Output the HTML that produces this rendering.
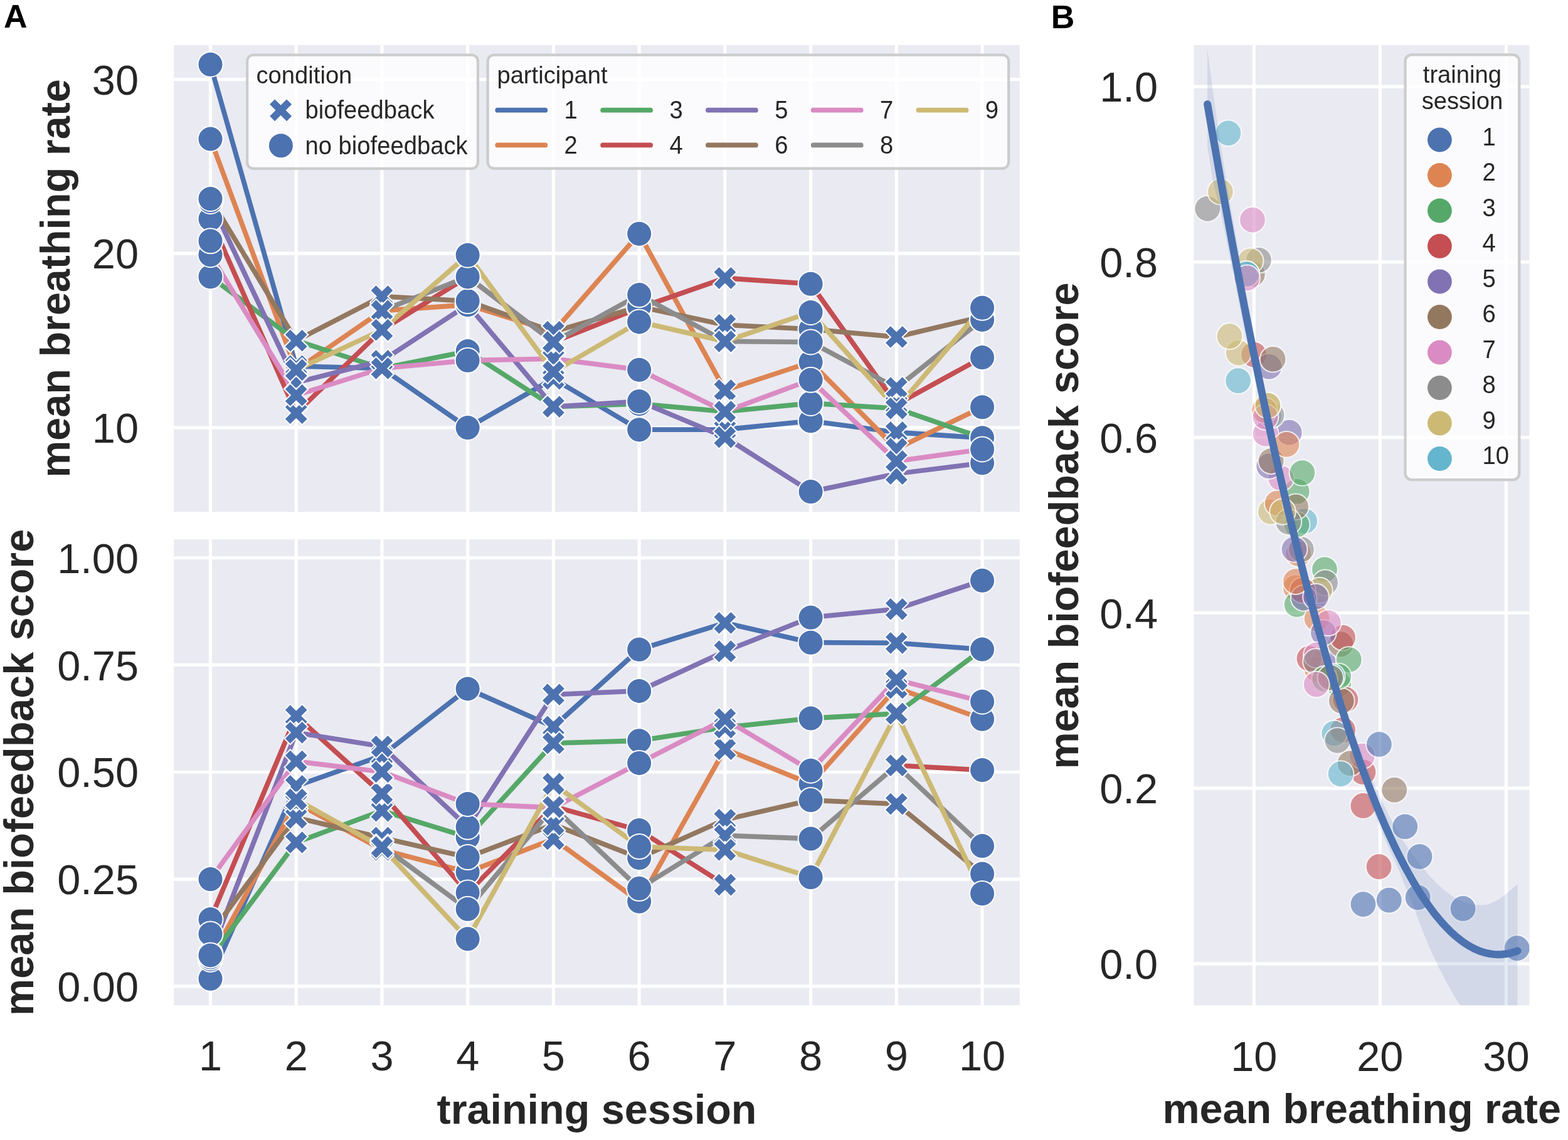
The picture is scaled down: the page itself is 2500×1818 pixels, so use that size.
<!DOCTYPE html>
<html><head><meta charset="utf-8"><title>Breathing biofeedback figure</title>
<style>html,body{margin:0;padding:0;background:#fff;overflow:hidden;}svg{display:block;}</style></head><body>
<svg width="2500" height="1818" viewBox="0 0 2500 1818" font-family="'Liberation Sans', Arial, Helvetica, sans-serif" fill="#262626">
<rect width="2500" height="1818" fill="#fff"/>
<defs>
<clipPath id="cT"><rect x="277.2" y="71.8" width="1348.6" height="744.6"/></clipPath>
<clipPath id="cB"><rect x="277.2" y="860.3" width="1348.6" height="742.9"/></clipPath>
<clipPath id="cR"><rect x="1903.5" y="71.8" width="534.9" height="1531.4"/></clipPath>
</defs>
<rect x="277.2" y="71.8" width="1348.6" height="744.6" fill="#EAEAF2"/>
<line x1="335.5" y1="71.8" x2="335.5" y2="816.4" stroke="#fff" stroke-width="5.2"/>
<line x1="472.23" y1="71.8" x2="472.23" y2="816.4" stroke="#fff" stroke-width="5.2"/>
<line x1="608.96" y1="71.8" x2="608.96" y2="816.4" stroke="#fff" stroke-width="5.2"/>
<line x1="745.69" y1="71.8" x2="745.69" y2="816.4" stroke="#fff" stroke-width="5.2"/>
<line x1="882.42" y1="71.8" x2="882.42" y2="816.4" stroke="#fff" stroke-width="5.2"/>
<line x1="1019.15" y1="71.8" x2="1019.15" y2="816.4" stroke="#fff" stroke-width="5.2"/>
<line x1="1155.88" y1="71.8" x2="1155.88" y2="816.4" stroke="#fff" stroke-width="5.2"/>
<line x1="1292.61" y1="71.8" x2="1292.61" y2="816.4" stroke="#fff" stroke-width="5.2"/>
<line x1="1429.34" y1="71.8" x2="1429.34" y2="816.4" stroke="#fff" stroke-width="5.2"/>
<line x1="1566.07" y1="71.8" x2="1566.07" y2="816.4" stroke="#fff" stroke-width="5.2"/>
<line x1="277.2" y1="681.8" x2="1625.8" y2="681.8" stroke="#fff" stroke-width="5.2"/>
<line x1="277.2" y1="404.2" x2="1625.8" y2="404.2" stroke="#fff" stroke-width="5.2"/>
<line x1="277.2" y1="126.6" x2="1625.8" y2="126.6" stroke="#fff" stroke-width="5.2"/>
<rect x="277.2" y="860.3" width="1348.6" height="742.9" fill="#EAEAF2"/>
<line x1="335.5" y1="860.3" x2="335.5" y2="1603.2" stroke="#fff" stroke-width="5.2"/>
<line x1="472.23" y1="860.3" x2="472.23" y2="1603.2" stroke="#fff" stroke-width="5.2"/>
<line x1="608.96" y1="860.3" x2="608.96" y2="1603.2" stroke="#fff" stroke-width="5.2"/>
<line x1="745.69" y1="860.3" x2="745.69" y2="1603.2" stroke="#fff" stroke-width="5.2"/>
<line x1="882.42" y1="860.3" x2="882.42" y2="1603.2" stroke="#fff" stroke-width="5.2"/>
<line x1="1019.15" y1="860.3" x2="1019.15" y2="1603.2" stroke="#fff" stroke-width="5.2"/>
<line x1="1155.88" y1="860.3" x2="1155.88" y2="1603.2" stroke="#fff" stroke-width="5.2"/>
<line x1="1292.61" y1="860.3" x2="1292.61" y2="1603.2" stroke="#fff" stroke-width="5.2"/>
<line x1="1429.34" y1="860.3" x2="1429.34" y2="1603.2" stroke="#fff" stroke-width="5.2"/>
<line x1="1566.07" y1="860.3" x2="1566.07" y2="1603.2" stroke="#fff" stroke-width="5.2"/>
<line x1="277.2" y1="1572.9" x2="1625.8" y2="1572.9" stroke="#fff" stroke-width="5.2"/>
<line x1="277.2" y1="1402.08" x2="1625.8" y2="1402.08" stroke="#fff" stroke-width="5.2"/>
<line x1="277.2" y1="1231.25" x2="1625.8" y2="1231.25" stroke="#fff" stroke-width="5.2"/>
<line x1="277.2" y1="1060.43" x2="1625.8" y2="1060.43" stroke="#fff" stroke-width="5.2"/>
<line x1="277.2" y1="889.6" x2="1625.8" y2="889.6" stroke="#fff" stroke-width="5.2"/>
<rect x="1903.5" y="71.8" width="534.9" height="1531.4" fill="#EAEAF2"/>
<line x1="1999.3" y1="71.8" x2="1999.3" y2="1603.2" stroke="#fff" stroke-width="5.2"/>
<line x1="2200.35" y1="71.8" x2="2200.35" y2="1603.2" stroke="#fff" stroke-width="5.2"/>
<line x1="2401.4" y1="71.8" x2="2401.4" y2="1603.2" stroke="#fff" stroke-width="5.2"/>
<line x1="1903.5" y1="1536.9" x2="2438.4" y2="1536.9" stroke="#fff" stroke-width="5.2"/>
<line x1="1903.5" y1="1257.16" x2="2438.4" y2="1257.16" stroke="#fff" stroke-width="5.2"/>
<line x1="1903.5" y1="977.42" x2="2438.4" y2="977.42" stroke="#fff" stroke-width="5.2"/>
<line x1="1903.5" y1="697.68" x2="2438.4" y2="697.68" stroke="#fff" stroke-width="5.2"/>
<line x1="1903.5" y1="417.94" x2="2438.4" y2="417.94" stroke="#fff" stroke-width="5.2"/>
<line x1="1903.5" y1="138.2" x2="2438.4" y2="138.2" stroke="#fff" stroke-width="5.2"/>
<g clip-path="url(#cT)" fill="none" stroke-width="7.8" stroke-linecap="round" stroke-linejoin="round">
<polyline points="335.5,102.7 472.23,584 608.96,587.4 745.69,682 882.42,604 1019.15,685.2 1155.88,685 1292.61,671.3 1429.34,689.5 1566.07,698.3" stroke="#4C72B0"/>
<polyline points="335.5,221.6 472.23,589.9 608.96,495.7 745.69,486 882.42,529.1 1019.15,372.7 1155.88,622.4 1292.61,577.5 1429.34,715.7 1566.07,649.2" stroke="#DD8452"/>
<polyline points="335.5,441.3 472.23,543.2 608.96,587.4 745.69,560.1 882.42,648.6 1019.15,644 1155.88,656.4 1292.61,643 1429.34,651.3 1566.07,698.3" stroke="#55A868"/>
<polyline points="335.5,349.1 472.23,658.7 608.96,526.2 745.69,441.4 882.42,545.5 1019.15,491 1155.88,443.5 1292.61,452.7 1429.34,645 1566.07,570.1" stroke="#C44E52"/>
<polyline points="335.5,321 472.23,610 608.96,575.4 745.69,486.1 882.42,648.6 1019.15,640 1155.88,697.1 1292.61,784.1 1429.34,755.5 1566.07,738.3" stroke="#8172B3"/>
<polyline points="335.5,317 472.23,543.2 608.96,472.7 745.69,480.1 882.42,529.1 1019.15,489 1155.88,518.2 1292.61,524.8 1429.34,537.4 1566.07,505" stroke="#937860"/>
<polyline points="335.5,406.2 472.23,630.2 608.96,587.4 745.69,574.8 882.42,572.2 1019.15,589.7 1155.88,656.4 1292.61,605.8 1429.34,735.4 1566.07,716.5" stroke="#DA8BC3"/>
<polyline points="608.96,495.7 745.69,441.4 882.42,545.5 1019.15,470.1 1155.88,544.4 1292.61,545.5 1429.34,618.6 1566.07,509.9" stroke="#8C8C8C"/>
<polyline points="472.23,589.9 608.96,526.2 745.69,406.7 882.42,593 1019.15,513.4 1155.88,544.4 1292.61,498 1429.34,651.3 1566.07,490.8" stroke="#CCB974"/>
</g>
<g clip-path="url(#cT)">
<circle cx="335.5" cy="102.7" r="20" fill="#4C72B0" stroke="#fff" stroke-width="2.0"/>
<path d="M481.66,565.14 L491.09,574.57 L481.66,584 L491.09,593.43 L481.66,602.86 L472.23,593.43 L462.8,602.86 L453.37,593.43 L462.8,584 L453.37,574.57 L462.8,565.14 L472.23,574.57 Z" fill="#4C72B0" stroke="#fff" stroke-width="2.0" stroke-linejoin="miter"/>
<path d="M618.39,568.54 L627.82,577.97 L618.39,587.4 L627.82,596.83 L618.39,606.26 L608.96,596.83 L599.53,606.26 L590.1,596.83 L599.53,587.4 L590.1,577.97 L599.53,568.54 L608.96,577.97 Z" fill="#4C72B0" stroke="#fff" stroke-width="2.0" stroke-linejoin="miter"/>
<circle cx="745.69" cy="682" r="20" fill="#4C72B0" stroke="#fff" stroke-width="2.0"/>
<path d="M891.85,585.14 L901.28,594.57 L891.85,604 L901.28,613.43 L891.85,622.86 L882.42,613.43 L872.99,622.86 L863.56,613.43 L872.99,604 L863.56,594.57 L872.99,585.14 L882.42,594.57 Z" fill="#4C72B0" stroke="#fff" stroke-width="2.0" stroke-linejoin="miter"/>
<circle cx="1019.15" cy="685.2" r="20" fill="#4C72B0" stroke="#fff" stroke-width="2.0"/>
<path d="M1165.31,666.14 L1174.74,675.57 L1165.31,685 L1174.74,694.43 L1165.31,703.86 L1155.88,694.43 L1146.45,703.86 L1137.02,694.43 L1146.45,685 L1137.02,675.57 L1146.45,666.14 L1155.88,675.57 Z" fill="#4C72B0" stroke="#fff" stroke-width="2.0" stroke-linejoin="miter"/>
<circle cx="1292.61" cy="671.3" r="20" fill="#4C72B0" stroke="#fff" stroke-width="2.0"/>
<path d="M1438.77,670.64 L1448.2,680.07 L1438.77,689.5 L1448.2,698.93 L1438.77,708.36 L1429.34,698.93 L1419.91,708.36 L1410.48,698.93 L1419.91,689.5 L1410.48,680.07 L1419.91,670.64 L1429.34,680.07 Z" fill="#4C72B0" stroke="#fff" stroke-width="2.0" stroke-linejoin="miter"/>
<circle cx="1566.07" cy="698.3" r="20" fill="#4C72B0" stroke="#fff" stroke-width="2.0"/>
<circle cx="335.5" cy="221.6" r="20" fill="#4C72B0" stroke="#fff" stroke-width="2.0"/>
<path d="M481.66,571.04 L491.09,580.47 L481.66,589.9 L491.09,599.33 L481.66,608.76 L472.23,599.33 L462.8,608.76 L453.37,599.33 L462.8,589.9 L453.37,580.47 L462.8,571.04 L472.23,580.47 Z" fill="#4C72B0" stroke="#fff" stroke-width="2.0" stroke-linejoin="miter"/>
<path d="M618.39,476.84 L627.82,486.27 L618.39,495.7 L627.82,505.13 L618.39,514.56 L608.96,505.13 L599.53,514.56 L590.1,505.13 L599.53,495.7 L590.1,486.27 L599.53,476.84 L608.96,486.27 Z" fill="#4C72B0" stroke="#fff" stroke-width="2.0" stroke-linejoin="miter"/>
<circle cx="745.69" cy="486" r="20" fill="#4C72B0" stroke="#fff" stroke-width="2.0"/>
<path d="M891.85,510.24 L901.28,519.67 L891.85,529.1 L901.28,538.53 L891.85,547.96 L882.42,538.53 L872.99,547.96 L863.56,538.53 L872.99,529.1 L863.56,519.67 L872.99,510.24 L882.42,519.67 Z" fill="#4C72B0" stroke="#fff" stroke-width="2.0" stroke-linejoin="miter"/>
<circle cx="1019.15" cy="372.7" r="20" fill="#4C72B0" stroke="#fff" stroke-width="2.0"/>
<path d="M1165.31,603.54 L1174.74,612.97 L1165.31,622.4 L1174.74,631.83 L1165.31,641.26 L1155.88,631.83 L1146.45,641.26 L1137.02,631.83 L1146.45,622.4 L1137.02,612.97 L1146.45,603.54 L1155.88,612.97 Z" fill="#4C72B0" stroke="#fff" stroke-width="2.0" stroke-linejoin="miter"/>
<circle cx="1292.61" cy="577.5" r="20" fill="#4C72B0" stroke="#fff" stroke-width="2.0"/>
<path d="M1438.77,696.84 L1448.2,706.27 L1438.77,715.7 L1448.2,725.13 L1438.77,734.56 L1429.34,725.13 L1419.91,734.56 L1410.48,725.13 L1419.91,715.7 L1410.48,706.27 L1419.91,696.84 L1429.34,706.27 Z" fill="#4C72B0" stroke="#fff" stroke-width="2.0" stroke-linejoin="miter"/>
<circle cx="1566.07" cy="649.2" r="20" fill="#4C72B0" stroke="#fff" stroke-width="2.0"/>
<circle cx="335.5" cy="441.3" r="20" fill="#4C72B0" stroke="#fff" stroke-width="2.0"/>
<path d="M481.66,524.34 L491.09,533.77 L481.66,543.2 L491.09,552.63 L481.66,562.06 L472.23,552.63 L462.8,562.06 L453.37,552.63 L462.8,543.2 L453.37,533.77 L462.8,524.34 L472.23,533.77 Z" fill="#4C72B0" stroke="#fff" stroke-width="2.0" stroke-linejoin="miter"/>
<path d="M618.39,568.54 L627.82,577.97 L618.39,587.4 L627.82,596.83 L618.39,606.26 L608.96,596.83 L599.53,606.26 L590.1,596.83 L599.53,587.4 L590.1,577.97 L599.53,568.54 L608.96,577.97 Z" fill="#4C72B0" stroke="#fff" stroke-width="2.0" stroke-linejoin="miter"/>
<circle cx="745.69" cy="560.1" r="20" fill="#4C72B0" stroke="#fff" stroke-width="2.0"/>
<path d="M891.85,629.74 L901.28,639.17 L891.85,648.6 L901.28,658.03 L891.85,667.46 L882.42,658.03 L872.99,667.46 L863.56,658.03 L872.99,648.6 L863.56,639.17 L872.99,629.74 L882.42,639.17 Z" fill="#4C72B0" stroke="#fff" stroke-width="2.0" stroke-linejoin="miter"/>
<circle cx="1019.15" cy="644" r="20" fill="#4C72B0" stroke="#fff" stroke-width="2.0"/>
<path d="M1165.31,637.54 L1174.74,646.97 L1165.31,656.4 L1174.74,665.83 L1165.31,675.26 L1155.88,665.83 L1146.45,675.26 L1137.02,665.83 L1146.45,656.4 L1137.02,646.97 L1146.45,637.54 L1155.88,646.97 Z" fill="#4C72B0" stroke="#fff" stroke-width="2.0" stroke-linejoin="miter"/>
<circle cx="1292.61" cy="643" r="20" fill="#4C72B0" stroke="#fff" stroke-width="2.0"/>
<path d="M1438.77,632.44 L1448.2,641.87 L1438.77,651.3 L1448.2,660.73 L1438.77,670.16 L1429.34,660.73 L1419.91,670.16 L1410.48,660.73 L1419.91,651.3 L1410.48,641.87 L1419.91,632.44 L1429.34,641.87 Z" fill="#4C72B0" stroke="#fff" stroke-width="2.0" stroke-linejoin="miter"/>
<circle cx="1566.07" cy="698.3" r="20" fill="#4C72B0" stroke="#fff" stroke-width="2.0"/>
<circle cx="335.5" cy="349.1" r="20" fill="#4C72B0" stroke="#fff" stroke-width="2.0"/>
<path d="M481.66,639.84 L491.09,649.27 L481.66,658.7 L491.09,668.13 L481.66,677.56 L472.23,668.13 L462.8,677.56 L453.37,668.13 L462.8,658.7 L453.37,649.27 L462.8,639.84 L472.23,649.27 Z" fill="#4C72B0" stroke="#fff" stroke-width="2.0" stroke-linejoin="miter"/>
<path d="M618.39,507.34 L627.82,516.77 L618.39,526.2 L627.82,535.63 L618.39,545.06 L608.96,535.63 L599.53,545.06 L590.1,535.63 L599.53,526.2 L590.1,516.77 L599.53,507.34 L608.96,516.77 Z" fill="#4C72B0" stroke="#fff" stroke-width="2.0" stroke-linejoin="miter"/>
<circle cx="745.69" cy="441.4" r="20" fill="#4C72B0" stroke="#fff" stroke-width="2.0"/>
<path d="M891.85,526.64 L901.28,536.07 L891.85,545.5 L901.28,554.93 L891.85,564.36 L882.42,554.93 L872.99,564.36 L863.56,554.93 L872.99,545.5 L863.56,536.07 L872.99,526.64 L882.42,536.07 Z" fill="#4C72B0" stroke="#fff" stroke-width="2.0" stroke-linejoin="miter"/>
<circle cx="1019.15" cy="491" r="20" fill="#4C72B0" stroke="#fff" stroke-width="2.0"/>
<path d="M1165.31,424.64 L1174.74,434.07 L1165.31,443.5 L1174.74,452.93 L1165.31,462.36 L1155.88,452.93 L1146.45,462.36 L1137.02,452.93 L1146.45,443.5 L1137.02,434.07 L1146.45,424.64 L1155.88,434.07 Z" fill="#4C72B0" stroke="#fff" stroke-width="2.0" stroke-linejoin="miter"/>
<circle cx="1292.61" cy="452.7" r="20" fill="#4C72B0" stroke="#fff" stroke-width="2.0"/>
<path d="M1438.77,626.14 L1448.2,635.57 L1438.77,645 L1448.2,654.43 L1438.77,663.86 L1429.34,654.43 L1419.91,663.86 L1410.48,654.43 L1419.91,645 L1410.48,635.57 L1419.91,626.14 L1429.34,635.57 Z" fill="#4C72B0" stroke="#fff" stroke-width="2.0" stroke-linejoin="miter"/>
<circle cx="1566.07" cy="570.1" r="20" fill="#4C72B0" stroke="#fff" stroke-width="2.0"/>
<circle cx="335.5" cy="321" r="20" fill="#4C72B0" stroke="#fff" stroke-width="2.0"/>
<path d="M481.66,591.14 L491.09,600.57 L481.66,610 L491.09,619.43 L481.66,628.86 L472.23,619.43 L462.8,628.86 L453.37,619.43 L462.8,610 L453.37,600.57 L462.8,591.14 L472.23,600.57 Z" fill="#4C72B0" stroke="#fff" stroke-width="2.0" stroke-linejoin="miter"/>
<path d="M618.39,556.54 L627.82,565.97 L618.39,575.4 L627.82,584.83 L618.39,594.26 L608.96,584.83 L599.53,594.26 L590.1,584.83 L599.53,575.4 L590.1,565.97 L599.53,556.54 L608.96,565.97 Z" fill="#4C72B0" stroke="#fff" stroke-width="2.0" stroke-linejoin="miter"/>
<circle cx="745.69" cy="486.1" r="20" fill="#4C72B0" stroke="#fff" stroke-width="2.0"/>
<path d="M891.85,629.74 L901.28,639.17 L891.85,648.6 L901.28,658.03 L891.85,667.46 L882.42,658.03 L872.99,667.46 L863.56,658.03 L872.99,648.6 L863.56,639.17 L872.99,629.74 L882.42,639.17 Z" fill="#4C72B0" stroke="#fff" stroke-width="2.0" stroke-linejoin="miter"/>
<circle cx="1019.15" cy="640" r="20" fill="#4C72B0" stroke="#fff" stroke-width="2.0"/>
<path d="M1165.31,678.24 L1174.74,687.67 L1165.31,697.1 L1174.74,706.53 L1165.31,715.96 L1155.88,706.53 L1146.45,715.96 L1137.02,706.53 L1146.45,697.1 L1137.02,687.67 L1146.45,678.24 L1155.88,687.67 Z" fill="#4C72B0" stroke="#fff" stroke-width="2.0" stroke-linejoin="miter"/>
<circle cx="1292.61" cy="784.1" r="20" fill="#4C72B0" stroke="#fff" stroke-width="2.0"/>
<path d="M1438.77,736.64 L1448.2,746.07 L1438.77,755.5 L1448.2,764.93 L1438.77,774.36 L1429.34,764.93 L1419.91,774.36 L1410.48,764.93 L1419.91,755.5 L1410.48,746.07 L1419.91,736.64 L1429.34,746.07 Z" fill="#4C72B0" stroke="#fff" stroke-width="2.0" stroke-linejoin="miter"/>
<circle cx="1566.07" cy="738.3" r="20" fill="#4C72B0" stroke="#fff" stroke-width="2.0"/>
<circle cx="335.5" cy="317" r="20" fill="#4C72B0" stroke="#fff" stroke-width="2.0"/>
<path d="M481.66,524.34 L491.09,533.77 L481.66,543.2 L491.09,552.63 L481.66,562.06 L472.23,552.63 L462.8,562.06 L453.37,552.63 L462.8,543.2 L453.37,533.77 L462.8,524.34 L472.23,533.77 Z" fill="#4C72B0" stroke="#fff" stroke-width="2.0" stroke-linejoin="miter"/>
<path d="M618.39,453.84 L627.82,463.27 L618.39,472.7 L627.82,482.13 L618.39,491.56 L608.96,482.13 L599.53,491.56 L590.1,482.13 L599.53,472.7 L590.1,463.27 L599.53,453.84 L608.96,463.27 Z" fill="#4C72B0" stroke="#fff" stroke-width="2.0" stroke-linejoin="miter"/>
<circle cx="745.69" cy="480.1" r="20" fill="#4C72B0" stroke="#fff" stroke-width="2.0"/>
<path d="M891.85,510.24 L901.28,519.67 L891.85,529.1 L901.28,538.53 L891.85,547.96 L882.42,538.53 L872.99,547.96 L863.56,538.53 L872.99,529.1 L863.56,519.67 L872.99,510.24 L882.42,519.67 Z" fill="#4C72B0" stroke="#fff" stroke-width="2.0" stroke-linejoin="miter"/>
<circle cx="1019.15" cy="489" r="20" fill="#4C72B0" stroke="#fff" stroke-width="2.0"/>
<path d="M1165.31,499.34 L1174.74,508.77 L1165.31,518.2 L1174.74,527.63 L1165.31,537.06 L1155.88,527.63 L1146.45,537.06 L1137.02,527.63 L1146.45,518.2 L1137.02,508.77 L1146.45,499.34 L1155.88,508.77 Z" fill="#4C72B0" stroke="#fff" stroke-width="2.0" stroke-linejoin="miter"/>
<circle cx="1292.61" cy="524.8" r="20" fill="#4C72B0" stroke="#fff" stroke-width="2.0"/>
<path d="M1438.77,518.54 L1448.2,527.97 L1438.77,537.4 L1448.2,546.83 L1438.77,556.26 L1429.34,546.83 L1419.91,556.26 L1410.48,546.83 L1419.91,537.4 L1410.48,527.97 L1419.91,518.54 L1429.34,527.97 Z" fill="#4C72B0" stroke="#fff" stroke-width="2.0" stroke-linejoin="miter"/>
<circle cx="1566.07" cy="505" r="20" fill="#4C72B0" stroke="#fff" stroke-width="2.0"/>
<circle cx="335.5" cy="406.2" r="20" fill="#4C72B0" stroke="#fff" stroke-width="2.0"/>
<path d="M481.66,611.34 L491.09,620.77 L481.66,630.2 L491.09,639.63 L481.66,649.06 L472.23,639.63 L462.8,649.06 L453.37,639.63 L462.8,630.2 L453.37,620.77 L462.8,611.34 L472.23,620.77 Z" fill="#4C72B0" stroke="#fff" stroke-width="2.0" stroke-linejoin="miter"/>
<path d="M618.39,568.54 L627.82,577.97 L618.39,587.4 L627.82,596.83 L618.39,606.26 L608.96,596.83 L599.53,606.26 L590.1,596.83 L599.53,587.4 L590.1,577.97 L599.53,568.54 L608.96,577.97 Z" fill="#4C72B0" stroke="#fff" stroke-width="2.0" stroke-linejoin="miter"/>
<circle cx="745.69" cy="574.8" r="20" fill="#4C72B0" stroke="#fff" stroke-width="2.0"/>
<path d="M891.85,553.34 L901.28,562.77 L891.85,572.2 L901.28,581.63 L891.85,591.06 L882.42,581.63 L872.99,591.06 L863.56,581.63 L872.99,572.2 L863.56,562.77 L872.99,553.34 L882.42,562.77 Z" fill="#4C72B0" stroke="#fff" stroke-width="2.0" stroke-linejoin="miter"/>
<circle cx="1019.15" cy="589.7" r="20" fill="#4C72B0" stroke="#fff" stroke-width="2.0"/>
<path d="M1165.31,637.54 L1174.74,646.97 L1165.31,656.4 L1174.74,665.83 L1165.31,675.26 L1155.88,665.83 L1146.45,675.26 L1137.02,665.83 L1146.45,656.4 L1137.02,646.97 L1146.45,637.54 L1155.88,646.97 Z" fill="#4C72B0" stroke="#fff" stroke-width="2.0" stroke-linejoin="miter"/>
<circle cx="1292.61" cy="605.8" r="20" fill="#4C72B0" stroke="#fff" stroke-width="2.0"/>
<path d="M1438.77,716.54 L1448.2,725.97 L1438.77,735.4 L1448.2,744.83 L1438.77,754.26 L1429.34,744.83 L1419.91,754.26 L1410.48,744.83 L1419.91,735.4 L1410.48,725.97 L1419.91,716.54 L1429.34,725.97 Z" fill="#4C72B0" stroke="#fff" stroke-width="2.0" stroke-linejoin="miter"/>
<circle cx="1566.07" cy="716.5" r="20" fill="#4C72B0" stroke="#fff" stroke-width="2.0"/>
<circle cx="335.5" cy="384.3" r="20" fill="#4C72B0" stroke="#fff" stroke-width="2.0"/>
<path d="M618.39,476.84 L627.82,486.27 L618.39,495.7 L627.82,505.13 L618.39,514.56 L608.96,505.13 L599.53,514.56 L590.1,505.13 L599.53,495.7 L590.1,486.27 L599.53,476.84 L608.96,486.27 Z" fill="#4C72B0" stroke="#fff" stroke-width="2.0" stroke-linejoin="miter"/>
<circle cx="745.69" cy="441.4" r="20" fill="#4C72B0" stroke="#fff" stroke-width="2.0"/>
<path d="M891.85,526.64 L901.28,536.07 L891.85,545.5 L901.28,554.93 L891.85,564.36 L882.42,554.93 L872.99,564.36 L863.56,554.93 L872.99,545.5 L863.56,536.07 L872.99,526.64 L882.42,536.07 Z" fill="#4C72B0" stroke="#fff" stroke-width="2.0" stroke-linejoin="miter"/>
<circle cx="1019.15" cy="470.1" r="20" fill="#4C72B0" stroke="#fff" stroke-width="2.0"/>
<path d="M1165.31,525.54 L1174.74,534.97 L1165.31,544.4 L1174.74,553.83 L1165.31,563.26 L1155.88,553.83 L1146.45,563.26 L1137.02,553.83 L1146.45,544.4 L1137.02,534.97 L1146.45,525.54 L1155.88,534.97 Z" fill="#4C72B0" stroke="#fff" stroke-width="2.0" stroke-linejoin="miter"/>
<circle cx="1292.61" cy="545.5" r="20" fill="#4C72B0" stroke="#fff" stroke-width="2.0"/>
<path d="M1438.77,599.74 L1448.2,609.17 L1438.77,618.6 L1448.2,628.03 L1438.77,637.46 L1429.34,628.03 L1419.91,637.46 L1410.48,628.03 L1419.91,618.6 L1410.48,609.17 L1419.91,599.74 L1429.34,609.17 Z" fill="#4C72B0" stroke="#fff" stroke-width="2.0" stroke-linejoin="miter"/>
<circle cx="1566.07" cy="509.9" r="20" fill="#4C72B0" stroke="#fff" stroke-width="2.0"/>
<path d="M481.66,571.04 L491.09,580.47 L481.66,589.9 L491.09,599.33 L481.66,608.76 L472.23,599.33 L462.8,608.76 L453.37,599.33 L462.8,589.9 L453.37,580.47 L462.8,571.04 L472.23,580.47 Z" fill="#4C72B0" stroke="#fff" stroke-width="2.0" stroke-linejoin="miter"/>
<path d="M618.39,507.34 L627.82,516.77 L618.39,526.2 L627.82,535.63 L618.39,545.06 L608.96,535.63 L599.53,545.06 L590.1,535.63 L599.53,526.2 L590.1,516.77 L599.53,507.34 L608.96,516.77 Z" fill="#4C72B0" stroke="#fff" stroke-width="2.0" stroke-linejoin="miter"/>
<circle cx="745.69" cy="406.7" r="20" fill="#4C72B0" stroke="#fff" stroke-width="2.0"/>
<path d="M891.85,574.14 L901.28,583.57 L891.85,593 L901.28,602.43 L891.85,611.86 L882.42,602.43 L872.99,611.86 L863.56,602.43 L872.99,593 L863.56,583.57 L872.99,574.14 L882.42,583.57 Z" fill="#4C72B0" stroke="#fff" stroke-width="2.0" stroke-linejoin="miter"/>
<circle cx="1019.15" cy="513.4" r="20" fill="#4C72B0" stroke="#fff" stroke-width="2.0"/>
<path d="M1165.31,525.54 L1174.74,534.97 L1165.31,544.4 L1174.74,553.83 L1165.31,563.26 L1155.88,553.83 L1146.45,563.26 L1137.02,553.83 L1146.45,544.4 L1137.02,534.97 L1146.45,525.54 L1155.88,534.97 Z" fill="#4C72B0" stroke="#fff" stroke-width="2.0" stroke-linejoin="miter"/>
<circle cx="1292.61" cy="498" r="20" fill="#4C72B0" stroke="#fff" stroke-width="2.0"/>
<path d="M1438.77,632.44 L1448.2,641.87 L1438.77,651.3 L1448.2,660.73 L1438.77,670.16 L1429.34,660.73 L1419.91,670.16 L1410.48,660.73 L1419.91,651.3 L1410.48,641.87 L1419.91,632.44 L1429.34,641.87 Z" fill="#4C72B0" stroke="#fff" stroke-width="2.0" stroke-linejoin="miter"/>
<circle cx="1566.07" cy="490.8" r="20" fill="#4C72B0" stroke="#fff" stroke-width="2.0"/>
</g>
<g clip-path="url(#cB)" fill="none" stroke-width="7.8" stroke-linecap="round" stroke-linejoin="round">
<polyline points="335.5,1560.8 472.23,1253.5 608.96,1205 745.69,1098.4 882.42,1159 1019.15,1035.7 1155.88,993.4 1292.61,1024.7 1429.34,1025.4 1566.07,1035.6" stroke="#4C72B0"/>
<polyline points="335.5,1529.9 472.23,1280 608.96,1355 745.69,1390.8 882.42,1338.1 1019.15,1437.5 1155.88,1194.7 1292.61,1250.1 1429.34,1097 1566.07,1146.7" stroke="#DD8452"/>
<polyline points="335.5,1526.6 472.23,1343.4 608.96,1293 745.69,1335.1 882.42,1185.2 1019.15,1181.2 1155.88,1160 1292.61,1145.5 1429.34,1138 1566.07,1035.6" stroke="#55A868"/>
<polyline points="335.5,1466.1 472.23,1141.7 608.96,1265.8 745.69,1423.6 882.42,1286 1019.15,1324 1155.88,1411" stroke="#C44E52"/>
<polyline points="1429.34,1220.7 1566.07,1228.1" stroke="#C44E52"/>
<polyline points="335.5,1521.3 472.23,1168.3 608.96,1190.4 745.69,1318.8 882.42,1107.7 1019.15,1101.9 1155.88,1038.7 1292.61,984.7 1429.34,971.4 1566.07,925.8" stroke="#8172B3"/>
<polyline points="335.5,1489.4 472.23,1304 608.96,1336 745.69,1367.1 882.42,1315 1019.15,1368.1 1155.88,1307.3 1292.61,1276.1 1429.34,1282.1 1566.07,1393.4" stroke="#937860"/>
<polyline points="335.5,1402 472.23,1214.1 608.96,1230.9 745.69,1281.9 882.42,1288 1019.15,1216.9 1155.88,1147 1292.61,1228.7 1429.34,1084 1566.07,1118.7" stroke="#DA8BC3"/>
<polyline points="608.96,1349 745.69,1449.8 882.42,1287 1019.15,1416.8 1155.88,1332.4 1292.61,1337.5 1429.34,1220.7 1566.07,1349.1" stroke="#8C8C8C"/>
<polyline points="472.23,1275 608.96,1351 745.69,1497.3 882.42,1250 1019.15,1350.1 1155.88,1355.3 1292.61,1399 1429.34,1138 1566.07,1425" stroke="#CCB974"/>
</g>
<g clip-path="url(#cB)">
<circle cx="335.5" cy="1560.8" r="20" fill="#4C72B0" stroke="#fff" stroke-width="2.0"/>
<path d="M481.66,1234.64 L491.09,1244.07 L481.66,1253.5 L491.09,1262.93 L481.66,1272.36 L472.23,1262.93 L462.8,1272.36 L453.37,1262.93 L462.8,1253.5 L453.37,1244.07 L462.8,1234.64 L472.23,1244.07 Z" fill="#4C72B0" stroke="#fff" stroke-width="2.0" stroke-linejoin="miter"/>
<path d="M618.39,1186.14 L627.82,1195.57 L618.39,1205 L627.82,1214.43 L618.39,1223.86 L608.96,1214.43 L599.53,1223.86 L590.1,1214.43 L599.53,1205 L590.1,1195.57 L599.53,1186.14 L608.96,1195.57 Z" fill="#4C72B0" stroke="#fff" stroke-width="2.0" stroke-linejoin="miter"/>
<circle cx="745.69" cy="1098.4" r="20" fill="#4C72B0" stroke="#fff" stroke-width="2.0"/>
<path d="M891.85,1140.14 L901.28,1149.57 L891.85,1159 L901.28,1168.43 L891.85,1177.86 L882.42,1168.43 L872.99,1177.86 L863.56,1168.43 L872.99,1159 L863.56,1149.57 L872.99,1140.14 L882.42,1149.57 Z" fill="#4C72B0" stroke="#fff" stroke-width="2.0" stroke-linejoin="miter"/>
<circle cx="1019.15" cy="1035.7" r="20" fill="#4C72B0" stroke="#fff" stroke-width="2.0"/>
<path d="M1165.31,974.54 L1174.74,983.97 L1165.31,993.4 L1174.74,1002.83 L1165.31,1012.26 L1155.88,1002.83 L1146.45,1012.26 L1137.02,1002.83 L1146.45,993.4 L1137.02,983.97 L1146.45,974.54 L1155.88,983.97 Z" fill="#4C72B0" stroke="#fff" stroke-width="2.0" stroke-linejoin="miter"/>
<circle cx="1292.61" cy="1024.7" r="20" fill="#4C72B0" stroke="#fff" stroke-width="2.0"/>
<path d="M1438.77,1006.54 L1448.2,1015.97 L1438.77,1025.4 L1448.2,1034.83 L1438.77,1044.26 L1429.34,1034.83 L1419.91,1044.26 L1410.48,1034.83 L1419.91,1025.4 L1410.48,1015.97 L1419.91,1006.54 L1429.34,1015.97 Z" fill="#4C72B0" stroke="#fff" stroke-width="2.0" stroke-linejoin="miter"/>
<circle cx="1566.07" cy="1035.6" r="20" fill="#4C72B0" stroke="#fff" stroke-width="2.0"/>
<circle cx="335.5" cy="1529.9" r="20" fill="#4C72B0" stroke="#fff" stroke-width="2.0"/>
<path d="M481.66,1261.14 L491.09,1270.57 L481.66,1280 L491.09,1289.43 L481.66,1298.86 L472.23,1289.43 L462.8,1298.86 L453.37,1289.43 L462.8,1280 L453.37,1270.57 L462.8,1261.14 L472.23,1270.57 Z" fill="#4C72B0" stroke="#fff" stroke-width="2.0" stroke-linejoin="miter"/>
<path d="M618.39,1336.14 L627.82,1345.57 L618.39,1355 L627.82,1364.43 L618.39,1373.86 L608.96,1364.43 L599.53,1373.86 L590.1,1364.43 L599.53,1355 L590.1,1345.57 L599.53,1336.14 L608.96,1345.57 Z" fill="#4C72B0" stroke="#fff" stroke-width="2.0" stroke-linejoin="miter"/>
<circle cx="745.69" cy="1390.8" r="20" fill="#4C72B0" stroke="#fff" stroke-width="2.0"/>
<path d="M891.85,1319.24 L901.28,1328.67 L891.85,1338.1 L901.28,1347.53 L891.85,1356.96 L882.42,1347.53 L872.99,1356.96 L863.56,1347.53 L872.99,1338.1 L863.56,1328.67 L872.99,1319.24 L882.42,1328.67 Z" fill="#4C72B0" stroke="#fff" stroke-width="2.0" stroke-linejoin="miter"/>
<circle cx="1019.15" cy="1437.5" r="20" fill="#4C72B0" stroke="#fff" stroke-width="2.0"/>
<path d="M1165.31,1175.84 L1174.74,1185.27 L1165.31,1194.7 L1174.74,1204.13 L1165.31,1213.56 L1155.88,1204.13 L1146.45,1213.56 L1137.02,1204.13 L1146.45,1194.7 L1137.02,1185.27 L1146.45,1175.84 L1155.88,1185.27 Z" fill="#4C72B0" stroke="#fff" stroke-width="2.0" stroke-linejoin="miter"/>
<circle cx="1292.61" cy="1250.1" r="20" fill="#4C72B0" stroke="#fff" stroke-width="2.0"/>
<path d="M1438.77,1078.14 L1448.2,1087.57 L1438.77,1097 L1448.2,1106.43 L1438.77,1115.86 L1429.34,1106.43 L1419.91,1115.86 L1410.48,1106.43 L1419.91,1097 L1410.48,1087.57 L1419.91,1078.14 L1429.34,1087.57 Z" fill="#4C72B0" stroke="#fff" stroke-width="2.0" stroke-linejoin="miter"/>
<circle cx="1566.07" cy="1146.7" r="20" fill="#4C72B0" stroke="#fff" stroke-width="2.0"/>
<circle cx="335.5" cy="1526.6" r="20" fill="#4C72B0" stroke="#fff" stroke-width="2.0"/>
<path d="M481.66,1324.54 L491.09,1333.97 L481.66,1343.4 L491.09,1352.83 L481.66,1362.26 L472.23,1352.83 L462.8,1362.26 L453.37,1352.83 L462.8,1343.4 L453.37,1333.97 L462.8,1324.54 L472.23,1333.97 Z" fill="#4C72B0" stroke="#fff" stroke-width="2.0" stroke-linejoin="miter"/>
<path d="M618.39,1274.14 L627.82,1283.57 L618.39,1293 L627.82,1302.43 L618.39,1311.86 L608.96,1302.43 L599.53,1311.86 L590.1,1302.43 L599.53,1293 L590.1,1283.57 L599.53,1274.14 L608.96,1283.57 Z" fill="#4C72B0" stroke="#fff" stroke-width="2.0" stroke-linejoin="miter"/>
<circle cx="745.69" cy="1335.1" r="20" fill="#4C72B0" stroke="#fff" stroke-width="2.0"/>
<path d="M891.85,1166.34 L901.28,1175.77 L891.85,1185.2 L901.28,1194.63 L891.85,1204.06 L882.42,1194.63 L872.99,1204.06 L863.56,1194.63 L872.99,1185.2 L863.56,1175.77 L872.99,1166.34 L882.42,1175.77 Z" fill="#4C72B0" stroke="#fff" stroke-width="2.0" stroke-linejoin="miter"/>
<circle cx="1019.15" cy="1181.2" r="20" fill="#4C72B0" stroke="#fff" stroke-width="2.0"/>
<path d="M1165.31,1141.14 L1174.74,1150.57 L1165.31,1160 L1174.74,1169.43 L1165.31,1178.86 L1155.88,1169.43 L1146.45,1178.86 L1137.02,1169.43 L1146.45,1160 L1137.02,1150.57 L1146.45,1141.14 L1155.88,1150.57 Z" fill="#4C72B0" stroke="#fff" stroke-width="2.0" stroke-linejoin="miter"/>
<circle cx="1292.61" cy="1145.5" r="20" fill="#4C72B0" stroke="#fff" stroke-width="2.0"/>
<path d="M1438.77,1119.14 L1448.2,1128.57 L1438.77,1138 L1448.2,1147.43 L1438.77,1156.86 L1429.34,1147.43 L1419.91,1156.86 L1410.48,1147.43 L1419.91,1138 L1410.48,1128.57 L1419.91,1119.14 L1429.34,1128.57 Z" fill="#4C72B0" stroke="#fff" stroke-width="2.0" stroke-linejoin="miter"/>
<circle cx="1566.07" cy="1035.6" r="20" fill="#4C72B0" stroke="#fff" stroke-width="2.0"/>
<circle cx="335.5" cy="1466.1" r="20" fill="#4C72B0" stroke="#fff" stroke-width="2.0"/>
<path d="M481.66,1122.84 L491.09,1132.27 L481.66,1141.7 L491.09,1151.13 L481.66,1160.56 L472.23,1151.13 L462.8,1160.56 L453.37,1151.13 L462.8,1141.7 L453.37,1132.27 L462.8,1122.84 L472.23,1132.27 Z" fill="#4C72B0" stroke="#fff" stroke-width="2.0" stroke-linejoin="miter"/>
<path d="M618.39,1246.94 L627.82,1256.37 L618.39,1265.8 L627.82,1275.23 L618.39,1284.66 L608.96,1275.23 L599.53,1284.66 L590.1,1275.23 L599.53,1265.8 L590.1,1256.37 L599.53,1246.94 L608.96,1256.37 Z" fill="#4C72B0" stroke="#fff" stroke-width="2.0" stroke-linejoin="miter"/>
<circle cx="745.69" cy="1423.6" r="20" fill="#4C72B0" stroke="#fff" stroke-width="2.0"/>
<path d="M891.85,1267.14 L901.28,1276.57 L891.85,1286 L901.28,1295.43 L891.85,1304.86 L882.42,1295.43 L872.99,1304.86 L863.56,1295.43 L872.99,1286 L863.56,1276.57 L872.99,1267.14 L882.42,1276.57 Z" fill="#4C72B0" stroke="#fff" stroke-width="2.0" stroke-linejoin="miter"/>
<circle cx="1019.15" cy="1324" r="20" fill="#4C72B0" stroke="#fff" stroke-width="2.0"/>
<path d="M1165.31,1392.14 L1174.74,1401.57 L1165.31,1411 L1174.74,1420.43 L1165.31,1429.86 L1155.88,1420.43 L1146.45,1429.86 L1137.02,1420.43 L1146.45,1411 L1137.02,1401.57 L1146.45,1392.14 L1155.88,1401.57 Z" fill="#4C72B0" stroke="#fff" stroke-width="2.0" stroke-linejoin="miter"/>
<path d="M1438.77,1201.84 L1448.2,1211.27 L1438.77,1220.7 L1448.2,1230.13 L1438.77,1239.56 L1429.34,1230.13 L1419.91,1239.56 L1410.48,1230.13 L1419.91,1220.7 L1410.48,1211.27 L1419.91,1201.84 L1429.34,1211.27 Z" fill="#4C72B0" stroke="#fff" stroke-width="2.0" stroke-linejoin="miter"/>
<circle cx="1566.07" cy="1228.1" r="20" fill="#4C72B0" stroke="#fff" stroke-width="2.0"/>
<circle cx="335.5" cy="1521.3" r="20" fill="#4C72B0" stroke="#fff" stroke-width="2.0"/>
<path d="M481.66,1149.44 L491.09,1158.87 L481.66,1168.3 L491.09,1177.73 L481.66,1187.16 L472.23,1177.73 L462.8,1187.16 L453.37,1177.73 L462.8,1168.3 L453.37,1158.87 L462.8,1149.44 L472.23,1158.87 Z" fill="#4C72B0" stroke="#fff" stroke-width="2.0" stroke-linejoin="miter"/>
<path d="M618.39,1171.54 L627.82,1180.97 L618.39,1190.4 L627.82,1199.83 L618.39,1209.26 L608.96,1199.83 L599.53,1209.26 L590.1,1199.83 L599.53,1190.4 L590.1,1180.97 L599.53,1171.54 L608.96,1180.97 Z" fill="#4C72B0" stroke="#fff" stroke-width="2.0" stroke-linejoin="miter"/>
<circle cx="745.69" cy="1318.8" r="20" fill="#4C72B0" stroke="#fff" stroke-width="2.0"/>
<path d="M891.85,1088.84 L901.28,1098.27 L891.85,1107.7 L901.28,1117.13 L891.85,1126.56 L882.42,1117.13 L872.99,1126.56 L863.56,1117.13 L872.99,1107.7 L863.56,1098.27 L872.99,1088.84 L882.42,1098.27 Z" fill="#4C72B0" stroke="#fff" stroke-width="2.0" stroke-linejoin="miter"/>
<circle cx="1019.15" cy="1101.9" r="20" fill="#4C72B0" stroke="#fff" stroke-width="2.0"/>
<path d="M1165.31,1019.84 L1174.74,1029.27 L1165.31,1038.7 L1174.74,1048.13 L1165.31,1057.56 L1155.88,1048.13 L1146.45,1057.56 L1137.02,1048.13 L1146.45,1038.7 L1137.02,1029.27 L1146.45,1019.84 L1155.88,1029.27 Z" fill="#4C72B0" stroke="#fff" stroke-width="2.0" stroke-linejoin="miter"/>
<circle cx="1292.61" cy="984.7" r="20" fill="#4C72B0" stroke="#fff" stroke-width="2.0"/>
<path d="M1438.77,952.54 L1448.2,961.97 L1438.77,971.4 L1448.2,980.83 L1438.77,990.26 L1429.34,980.83 L1419.91,990.26 L1410.48,980.83 L1419.91,971.4 L1410.48,961.97 L1419.91,952.54 L1429.34,961.97 Z" fill="#4C72B0" stroke="#fff" stroke-width="2.0" stroke-linejoin="miter"/>
<circle cx="1566.07" cy="925.8" r="20" fill="#4C72B0" stroke="#fff" stroke-width="2.0"/>
<circle cx="335.5" cy="1489.4" r="20" fill="#4C72B0" stroke="#fff" stroke-width="2.0"/>
<path d="M481.66,1285.14 L491.09,1294.57 L481.66,1304 L491.09,1313.43 L481.66,1322.86 L472.23,1313.43 L462.8,1322.86 L453.37,1313.43 L462.8,1304 L453.37,1294.57 L462.8,1285.14 L472.23,1294.57 Z" fill="#4C72B0" stroke="#fff" stroke-width="2.0" stroke-linejoin="miter"/>
<path d="M618.39,1317.14 L627.82,1326.57 L618.39,1336 L627.82,1345.43 L618.39,1354.86 L608.96,1345.43 L599.53,1354.86 L590.1,1345.43 L599.53,1336 L590.1,1326.57 L599.53,1317.14 L608.96,1326.57 Z" fill="#4C72B0" stroke="#fff" stroke-width="2.0" stroke-linejoin="miter"/>
<circle cx="745.69" cy="1367.1" r="20" fill="#4C72B0" stroke="#fff" stroke-width="2.0"/>
<path d="M891.85,1296.14 L901.28,1305.57 L891.85,1315 L901.28,1324.43 L891.85,1333.86 L882.42,1324.43 L872.99,1333.86 L863.56,1324.43 L872.99,1315 L863.56,1305.57 L872.99,1296.14 L882.42,1305.57 Z" fill="#4C72B0" stroke="#fff" stroke-width="2.0" stroke-linejoin="miter"/>
<circle cx="1019.15" cy="1368.1" r="20" fill="#4C72B0" stroke="#fff" stroke-width="2.0"/>
<path d="M1165.31,1288.44 L1174.74,1297.87 L1165.31,1307.3 L1174.74,1316.73 L1165.31,1326.16 L1155.88,1316.73 L1146.45,1326.16 L1137.02,1316.73 L1146.45,1307.3 L1137.02,1297.87 L1146.45,1288.44 L1155.88,1297.87 Z" fill="#4C72B0" stroke="#fff" stroke-width="2.0" stroke-linejoin="miter"/>
<circle cx="1292.61" cy="1276.1" r="20" fill="#4C72B0" stroke="#fff" stroke-width="2.0"/>
<path d="M1438.77,1263.24 L1448.2,1272.67 L1438.77,1282.1 L1448.2,1291.53 L1438.77,1300.96 L1429.34,1291.53 L1419.91,1300.96 L1410.48,1291.53 L1419.91,1282.1 L1410.48,1272.67 L1419.91,1263.24 L1429.34,1272.67 Z" fill="#4C72B0" stroke="#fff" stroke-width="2.0" stroke-linejoin="miter"/>
<circle cx="1566.07" cy="1393.4" r="20" fill="#4C72B0" stroke="#fff" stroke-width="2.0"/>
<circle cx="335.5" cy="1402" r="20" fill="#4C72B0" stroke="#fff" stroke-width="2.0"/>
<path d="M481.66,1195.24 L491.09,1204.67 L481.66,1214.1 L491.09,1223.53 L481.66,1232.96 L472.23,1223.53 L462.8,1232.96 L453.37,1223.53 L462.8,1214.1 L453.37,1204.67 L462.8,1195.24 L472.23,1204.67 Z" fill="#4C72B0" stroke="#fff" stroke-width="2.0" stroke-linejoin="miter"/>
<path d="M618.39,1212.04 L627.82,1221.47 L618.39,1230.9 L627.82,1240.33 L618.39,1249.76 L608.96,1240.33 L599.53,1249.76 L590.1,1240.33 L599.53,1230.9 L590.1,1221.47 L599.53,1212.04 L608.96,1221.47 Z" fill="#4C72B0" stroke="#fff" stroke-width="2.0" stroke-linejoin="miter"/>
<circle cx="745.69" cy="1281.9" r="20" fill="#4C72B0" stroke="#fff" stroke-width="2.0"/>
<path d="M891.85,1269.14 L901.28,1278.57 L891.85,1288 L901.28,1297.43 L891.85,1306.86 L882.42,1297.43 L872.99,1306.86 L863.56,1297.43 L872.99,1288 L863.56,1278.57 L872.99,1269.14 L882.42,1278.57 Z" fill="#4C72B0" stroke="#fff" stroke-width="2.0" stroke-linejoin="miter"/>
<circle cx="1019.15" cy="1216.9" r="20" fill="#4C72B0" stroke="#fff" stroke-width="2.0"/>
<path d="M1165.31,1128.14 L1174.74,1137.57 L1165.31,1147 L1174.74,1156.43 L1165.31,1165.86 L1155.88,1156.43 L1146.45,1165.86 L1137.02,1156.43 L1146.45,1147 L1137.02,1137.57 L1146.45,1128.14 L1155.88,1137.57 Z" fill="#4C72B0" stroke="#fff" stroke-width="2.0" stroke-linejoin="miter"/>
<circle cx="1292.61" cy="1228.7" r="20" fill="#4C72B0" stroke="#fff" stroke-width="2.0"/>
<path d="M1438.77,1065.14 L1448.2,1074.57 L1438.77,1084 L1448.2,1093.43 L1438.77,1102.86 L1429.34,1093.43 L1419.91,1102.86 L1410.48,1093.43 L1419.91,1084 L1410.48,1074.57 L1419.91,1065.14 L1429.34,1074.57 Z" fill="#4C72B0" stroke="#fff" stroke-width="2.0" stroke-linejoin="miter"/>
<circle cx="1566.07" cy="1118.7" r="20" fill="#4C72B0" stroke="#fff" stroke-width="2.0"/>
<circle cx="335.5" cy="1523.4" r="20" fill="#4C72B0" stroke="#fff" stroke-width="2.0"/>
<path d="M618.39,1330.14 L627.82,1339.57 L618.39,1349 L627.82,1358.43 L618.39,1367.86 L608.96,1358.43 L599.53,1367.86 L590.1,1358.43 L599.53,1349 L590.1,1339.57 L599.53,1330.14 L608.96,1339.57 Z" fill="#4C72B0" stroke="#fff" stroke-width="2.0" stroke-linejoin="miter"/>
<circle cx="745.69" cy="1449.8" r="20" fill="#4C72B0" stroke="#fff" stroke-width="2.0"/>
<path d="M891.85,1268.14 L901.28,1277.57 L891.85,1287 L901.28,1296.43 L891.85,1305.86 L882.42,1296.43 L872.99,1305.86 L863.56,1296.43 L872.99,1287 L863.56,1277.57 L872.99,1268.14 L882.42,1277.57 Z" fill="#4C72B0" stroke="#fff" stroke-width="2.0" stroke-linejoin="miter"/>
<circle cx="1019.15" cy="1416.8" r="20" fill="#4C72B0" stroke="#fff" stroke-width="2.0"/>
<path d="M1165.31,1313.54 L1174.74,1322.97 L1165.31,1332.4 L1174.74,1341.83 L1165.31,1351.26 L1155.88,1341.83 L1146.45,1351.26 L1137.02,1341.83 L1146.45,1332.4 L1137.02,1322.97 L1146.45,1313.54 L1155.88,1322.97 Z" fill="#4C72B0" stroke="#fff" stroke-width="2.0" stroke-linejoin="miter"/>
<circle cx="1292.61" cy="1337.5" r="20" fill="#4C72B0" stroke="#fff" stroke-width="2.0"/>
<path d="M1438.77,1201.84 L1448.2,1211.27 L1438.77,1220.7 L1448.2,1230.13 L1438.77,1239.56 L1429.34,1230.13 L1419.91,1239.56 L1410.48,1230.13 L1419.91,1220.7 L1410.48,1211.27 L1419.91,1201.84 L1429.34,1211.27 Z" fill="#4C72B0" stroke="#fff" stroke-width="2.0" stroke-linejoin="miter"/>
<circle cx="1566.07" cy="1349.1" r="20" fill="#4C72B0" stroke="#fff" stroke-width="2.0"/>
<path d="M481.66,1256.14 L491.09,1265.57 L481.66,1275 L491.09,1284.43 L481.66,1293.86 L472.23,1284.43 L462.8,1293.86 L453.37,1284.43 L462.8,1275 L453.37,1265.57 L462.8,1256.14 L472.23,1265.57 Z" fill="#4C72B0" stroke="#fff" stroke-width="2.0" stroke-linejoin="miter"/>
<path d="M618.39,1332.14 L627.82,1341.57 L618.39,1351 L627.82,1360.43 L618.39,1369.86 L608.96,1360.43 L599.53,1369.86 L590.1,1360.43 L599.53,1351 L590.1,1341.57 L599.53,1332.14 L608.96,1341.57 Z" fill="#4C72B0" stroke="#fff" stroke-width="2.0" stroke-linejoin="miter"/>
<circle cx="745.69" cy="1497.3" r="20" fill="#4C72B0" stroke="#fff" stroke-width="2.0"/>
<path d="M891.85,1231.14 L901.28,1240.57 L891.85,1250 L901.28,1259.43 L891.85,1268.86 L882.42,1259.43 L872.99,1268.86 L863.56,1259.43 L872.99,1250 L863.56,1240.57 L872.99,1231.14 L882.42,1240.57 Z" fill="#4C72B0" stroke="#fff" stroke-width="2.0" stroke-linejoin="miter"/>
<circle cx="1019.15" cy="1350.1" r="20" fill="#4C72B0" stroke="#fff" stroke-width="2.0"/>
<path d="M1165.31,1336.44 L1174.74,1345.87 L1165.31,1355.3 L1174.74,1364.73 L1165.31,1374.16 L1155.88,1364.73 L1146.45,1374.16 L1137.02,1364.73 L1146.45,1355.3 L1137.02,1345.87 L1146.45,1336.44 L1155.88,1345.87 Z" fill="#4C72B0" stroke="#fff" stroke-width="2.0" stroke-linejoin="miter"/>
<circle cx="1292.61" cy="1399" r="20" fill="#4C72B0" stroke="#fff" stroke-width="2.0"/>
<path d="M1438.77,1119.14 L1448.2,1128.57 L1438.77,1138 L1448.2,1147.43 L1438.77,1156.86 L1429.34,1147.43 L1419.91,1156.86 L1410.48,1147.43 L1419.91,1138 L1410.48,1128.57 L1419.91,1119.14 L1429.34,1128.57 Z" fill="#4C72B0" stroke="#fff" stroke-width="2.0" stroke-linejoin="miter"/>
<circle cx="1566.07" cy="1425" r="20" fill="#4C72B0" stroke="#fff" stroke-width="2.0"/>
</g>
<g clip-path="url(#cR)">
<circle cx="2418.71" cy="1512.13" r="20.8" fill="#4C72B0" fill-opacity="0.6" stroke="#fff" stroke-opacity="0.8" stroke-width="2"/>
<circle cx="2070.13" cy="883.1" r="20.8" fill="#DD8452" fill-opacity="0.6" stroke="#fff" stroke-opacity="0.8" stroke-width="2"/>
<circle cx="2067.67" cy="783.82" r="20.8" fill="#55A868" fill-opacity="0.6" stroke="#fff" stroke-opacity="0.8" stroke-width="2"/>
<circle cx="1999.16" cy="565.61" r="20.8" fill="#C44E52" fill-opacity="0.6" stroke="#fff" stroke-opacity="0.8" stroke-width="2"/>
<circle cx="2055.65" cy="689.66" r="20.8" fill="#8172B3" fill-opacity="0.6" stroke="#fff" stroke-opacity="0.8" stroke-width="2"/>
<circle cx="1996.84" cy="437.26" r="20.8" fill="#937860" fill-opacity="0.6" stroke="#fff" stroke-opacity="0.8" stroke-width="2"/>
<circle cx="1996.98" cy="350.68" r="20.8" fill="#DA8BC3" fill-opacity="0.6" stroke="#fff" stroke-opacity="0.8" stroke-width="2"/>
<circle cx="2006.9" cy="414.75" r="20.8" fill="#8C8C8C" fill-opacity="0.6" stroke="#fff" stroke-opacity="0.8" stroke-width="2"/>
<circle cx="1993.72" cy="416.18" r="20.8" fill="#CCB974" fill-opacity="0.6" stroke="#fff" stroke-opacity="0.8" stroke-width="2"/>
<circle cx="1987.35" cy="437.06" r="20.8" fill="#64B5CD" fill-opacity="0.6" stroke="#fff" stroke-opacity="0.8" stroke-width="2"/>
<circle cx="2332.6" cy="1448.88" r="20.8" fill="#4C72B0" fill-opacity="0.6" stroke="#fff" stroke-opacity="0.8" stroke-width="2"/>
<circle cx="2065.86" cy="937.34" r="20.8" fill="#DD8452" fill-opacity="0.6" stroke="#fff" stroke-opacity="0.8" stroke-width="2"/>
<circle cx="2134.08" cy="1090.86" r="20.8" fill="#55A868" fill-opacity="0.6" stroke="#fff" stroke-opacity="0.8" stroke-width="2"/>
<circle cx="2141.11" cy="1164.15" r="20.8" fill="#C44E52" fill-opacity="0.6" stroke="#fff" stroke-opacity="0.8" stroke-width="2"/>
<circle cx="2109.89" cy="1056.27" r="20.8" fill="#8172B3" fill-opacity="0.6" stroke="#fff" stroke-opacity="0.8" stroke-width="2"/>
<circle cx="2223.16" cy="1259.74" r="20.8" fill="#937860" fill-opacity="0.6" stroke="#fff" stroke-opacity="0.8" stroke-width="2"/>
<circle cx="2042.32" cy="762.73" r="20.8" fill="#DA8BC3" fill-opacity="0.6" stroke="#fff" stroke-opacity="0.8" stroke-width="2"/>
<circle cx="2074.84" cy="876.14" r="20.8" fill="#8C8C8C" fill-opacity="0.6" stroke="#fff" stroke-opacity="0.8" stroke-width="2"/>
<circle cx="1974.75" cy="562.74" r="20.8" fill="#CCB974" fill-opacity="0.6" stroke="#fff" stroke-opacity="0.8" stroke-width="2"/>
<circle cx="2022.91" cy="664.48" r="20.8" fill="#64B5CD" fill-opacity="0.6" stroke="#fff" stroke-opacity="0.8" stroke-width="2"/>
<circle cx="2173.48" cy="1442.12" r="20.8" fill="#4C72B0" fill-opacity="0.6" stroke="#fff" stroke-opacity="0.8" stroke-width="2"/>
<circle cx="2099.68" cy="1067.12" r="20.8" fill="#DD8452" fill-opacity="0.6" stroke="#fff" stroke-opacity="0.8" stroke-width="2"/>
<circle cx="2067.67" cy="963.95" r="20.8" fill="#55A868" fill-opacity="0.6" stroke="#fff" stroke-opacity="0.8" stroke-width="2"/>
<circle cx="2087.44" cy="1050.13" r="20.8" fill="#C44E52" fill-opacity="0.6" stroke="#fff" stroke-opacity="0.8" stroke-width="2"/>
<circle cx="2023.34" cy="743.29" r="20.8" fill="#8172B3" fill-opacity="0.6" stroke="#fff" stroke-opacity="0.8" stroke-width="2"/>
<circle cx="2026.68" cy="735.1" r="20.8" fill="#937860" fill-opacity="0.6" stroke="#fff" stroke-opacity="0.8" stroke-width="2"/>
<circle cx="2017.7" cy="691.7" r="20.8" fill="#DA8BC3" fill-opacity="0.6" stroke="#fff" stroke-opacity="0.8" stroke-width="2"/>
<circle cx="2027.4" cy="662.02" r="20.8" fill="#8C8C8C" fill-opacity="0.6" stroke="#fff" stroke-opacity="0.8" stroke-width="2"/>
<circle cx="2021.39" cy="646.67" r="20.8" fill="#CCB974" fill-opacity="0.6" stroke="#fff" stroke-opacity="0.8" stroke-width="2"/>
<circle cx="1987.35" cy="437.06" r="20.8" fill="#64B5CD" fill-opacity="0.6" stroke="#fff" stroke-opacity="0.8" stroke-width="2"/>
<circle cx="2240.26" cy="1318.28" r="20.8" fill="#4C72B0" fill-opacity="0.6" stroke="#fff" stroke-opacity="0.8" stroke-width="2"/>
<circle cx="2016.03" cy="654.24" r="20.8" fill="#DD8452" fill-opacity="0.6" stroke="#fff" stroke-opacity="0.8" stroke-width="2"/>
<circle cx="2111.99" cy="908.27" r="20.8" fill="#55A868" fill-opacity="0.6" stroke="#fff" stroke-opacity="0.8" stroke-width="2"/>
<circle cx="2173.41" cy="1231.29" r="20.8" fill="#C44E52" fill-opacity="0.6" stroke="#fff" stroke-opacity="0.8" stroke-width="2"/>
<circle cx="2098.01" cy="949.62" r="20.8" fill="#8172B3" fill-opacity="0.6" stroke="#fff" stroke-opacity="0.8" stroke-width="2"/>
<circle cx="2137.49" cy="1027.41" r="20.8" fill="#937860" fill-opacity="0.6" stroke="#fff" stroke-opacity="0.8" stroke-width="2"/>
<circle cx="2171.89" cy="1205.49" r="20.8" fill="#DA8BC3" fill-opacity="0.6" stroke="#fff" stroke-opacity="0.8" stroke-width="2"/>
<circle cx="2025.95" cy="815.95" r="20.8" fill="#CCB974" fill-opacity="0.6" stroke="#fff" stroke-opacity="0.8" stroke-width="2"/>
<circle cx="2080.2" cy="831.1" r="20.8" fill="#64B5CD" fill-opacity="0.6" stroke="#fff" stroke-opacity="0.8" stroke-width="2"/>
<circle cx="2260.61" cy="1431.28" r="20.8" fill="#4C72B0" fill-opacity="0.6" stroke="#fff" stroke-opacity="0.8" stroke-width="2"/>
<circle cx="2051.3" cy="708.69" r="20.8" fill="#DD8452" fill-opacity="0.6" stroke="#fff" stroke-opacity="0.8" stroke-width="2"/>
<circle cx="2076.36" cy="753.93" r="20.8" fill="#55A868" fill-opacity="0.6" stroke="#fff" stroke-opacity="0.8" stroke-width="2"/>
<circle cx="2141.03" cy="1016.76" r="20.8" fill="#C44E52" fill-opacity="0.6" stroke="#fff" stroke-opacity="0.8" stroke-width="2"/>
<circle cx="2023.34" cy="584.65" r="20.8" fill="#8172B3" fill-opacity="0.6" stroke="#fff" stroke-opacity="0.8" stroke-width="2"/>
<circle cx="2029.57" cy="572.77" r="20.8" fill="#937860" fill-opacity="0.6" stroke="#fff" stroke-opacity="0.8" stroke-width="2"/>
<circle cx="1988.22" cy="443.4" r="20.8" fill="#DA8BC3" fill-opacity="0.6" stroke="#fff" stroke-opacity="0.8" stroke-width="2"/>
<circle cx="1925.21" cy="332.87" r="20.8" fill="#8C8C8C" fill-opacity="0.6" stroke="#fff" stroke-opacity="0.8" stroke-width="2"/>
<circle cx="1945.92" cy="305.64" r="20.8" fill="#CCB974" fill-opacity="0.6" stroke="#fff" stroke-opacity="0.8" stroke-width="2"/>
<circle cx="1958.38" cy="212.3" r="20.8" fill="#64B5CD" fill-opacity="0.6" stroke="#fff" stroke-opacity="0.8" stroke-width="2"/>
<circle cx="2263.5" cy="1365.98" r="20.8" fill="#4C72B0" fill-opacity="0.6" stroke="#fff" stroke-opacity="0.8" stroke-width="2"/>
<circle cx="2099.68" cy="986.47" r="20.8" fill="#DD8452" fill-opacity="0.6" stroke="#fff" stroke-opacity="0.8" stroke-width="2"/>
<circle cx="2150.74" cy="1051.97" r="20.8" fill="#55A868" fill-opacity="0.6" stroke="#fff" stroke-opacity="0.8" stroke-width="2"/>
<circle cx="2145.38" cy="1115.63" r="20.8" fill="#C44E52" fill-opacity="0.6" stroke="#fff" stroke-opacity="0.8" stroke-width="2"/>
<circle cx="2109.89" cy="1008.98" r="20.8" fill="#8172B3" fill-opacity="0.6" stroke="#fff" stroke-opacity="0.8" stroke-width="2"/>
<circle cx="2138.93" cy="1117.68" r="20.8" fill="#937860" fill-opacity="0.6" stroke="#fff" stroke-opacity="0.8" stroke-width="2"/>
<circle cx="2117.79" cy="993.22" r="20.8" fill="#DA8BC3" fill-opacity="0.6" stroke="#fff" stroke-opacity="0.8" stroke-width="2"/>
<circle cx="2113.01" cy="929.36" r="20.8" fill="#8C8C8C" fill-opacity="0.6" stroke="#fff" stroke-opacity="0.8" stroke-width="2"/>
<circle cx="2103.88" cy="941.64" r="20.8" fill="#CCB974" fill-opacity="0.6" stroke="#fff" stroke-opacity="0.8" stroke-width="2"/>
<circle cx="2127.35" cy="1169.47" r="20.8" fill="#64B5CD" fill-opacity="0.6" stroke="#fff" stroke-opacity="0.8" stroke-width="2"/>
<circle cx="2198.9" cy="1187.07" r="20.8" fill="#4C72B0" fill-opacity="0.6" stroke="#fff" stroke-opacity="0.8" stroke-width="2"/>
<circle cx="2036.67" cy="802.44" r="20.8" fill="#DD8452" fill-opacity="0.6" stroke="#fff" stroke-opacity="0.8" stroke-width="2"/>
<circle cx="2067.67" cy="836.83" r="20.8" fill="#55A868" fill-opacity="0.6" stroke="#fff" stroke-opacity="0.8" stroke-width="2"/>
<circle cx="2076.79" cy="941.23" r="20.8" fill="#C44E52" fill-opacity="0.6" stroke="#fff" stroke-opacity="0.8" stroke-width="2"/>
<circle cx="2078.68" cy="953.72" r="20.8" fill="#8172B3" fill-opacity="0.6" stroke="#fff" stroke-opacity="0.8" stroke-width="2"/>
<circle cx="2066" cy="808.18" r="20.8" fill="#937860" fill-opacity="0.6" stroke="#fff" stroke-opacity="0.8" stroke-width="2"/>
<circle cx="2017.7" cy="665.09" r="20.8" fill="#DA8BC3" fill-opacity="0.6" stroke="#fff" stroke-opacity="0.8" stroke-width="2"/>
<circle cx="2054.34" cy="832.33" r="20.8" fill="#8C8C8C" fill-opacity="0.6" stroke="#fff" stroke-opacity="0.8" stroke-width="2"/>
<circle cx="1960.48" cy="536.13" r="20.8" fill="#CCB974" fill-opacity="0.6" stroke="#fff" stroke-opacity="0.8" stroke-width="2"/>
<circle cx="1974.17" cy="607.16" r="20.8" fill="#64B5CD" fill-opacity="0.6" stroke="#fff" stroke-opacity="0.8" stroke-width="2"/>
<circle cx="2214.76" cy="1435.57" r="20.8" fill="#4C72B0" fill-opacity="0.6" stroke="#fff" stroke-opacity="0.8" stroke-width="2"/>
<circle cx="2134.08" cy="1078.58" r="20.8" fill="#55A868" fill-opacity="0.6" stroke="#fff" stroke-opacity="0.8" stroke-width="2"/>
<circle cx="2173.41" cy="1284.92" r="20.8" fill="#C44E52" fill-opacity="0.6" stroke="#fff" stroke-opacity="0.8" stroke-width="2"/>
<circle cx="2098.01" cy="951.67" r="20.8" fill="#8172B3" fill-opacity="0.6" stroke="#fff" stroke-opacity="0.8" stroke-width="2"/>
<circle cx="2152.62" cy="1217.37" r="20.8" fill="#937860" fill-opacity="0.6" stroke="#fff" stroke-opacity="0.8" stroke-width="2"/>
<circle cx="2098.81" cy="1044.6" r="20.8" fill="#DA8BC3" fill-opacity="0.6" stroke="#fff" stroke-opacity="0.8" stroke-width="2"/>
<circle cx="2098.01" cy="1055.04" r="20.8" fill="#8C8C8C" fill-opacity="0.6" stroke="#fff" stroke-opacity="0.8" stroke-width="2"/>
<circle cx="2045.07" cy="815.95" r="20.8" fill="#CCB974" fill-opacity="0.6" stroke="#fff" stroke-opacity="0.8" stroke-width="2"/>
<circle cx="2123.8" cy="1078.79" r="20.8" fill="#64B5CD" fill-opacity="0.6" stroke="#fff" stroke-opacity="0.8" stroke-width="2"/>
<circle cx="2065.86" cy="927.11" r="20.8" fill="#DD8452" fill-opacity="0.6" stroke="#fff" stroke-opacity="0.8" stroke-width="2"/>
<circle cx="2111.99" cy="1082.68" r="20.8" fill="#55A868" fill-opacity="0.6" stroke="#fff" stroke-opacity="0.8" stroke-width="2"/>
<circle cx="2198.54" cy="1382.15" r="20.8" fill="#C44E52" fill-opacity="0.6" stroke="#fff" stroke-opacity="0.8" stroke-width="2"/>
<circle cx="2063.61" cy="875.93" r="20.8" fill="#8172B3" fill-opacity="0.6" stroke="#fff" stroke-opacity="0.8" stroke-width="2"/>
<circle cx="2121.26" cy="1080.83" r="20.8" fill="#937860" fill-opacity="0.6" stroke="#fff" stroke-opacity="0.8" stroke-width="2"/>
<circle cx="2098.81" cy="1091.48" r="20.8" fill="#DA8BC3" fill-opacity="0.6" stroke="#fff" stroke-opacity="0.8" stroke-width="2"/>
<circle cx="2132.42" cy="1180.93" r="20.8" fill="#8C8C8C" fill-opacity="0.6" stroke="#fff" stroke-opacity="0.8" stroke-width="2"/>
<circle cx="2021.39" cy="646.67" r="20.8" fill="#CCB974" fill-opacity="0.6" stroke="#fff" stroke-opacity="0.8" stroke-width="2"/>
<circle cx="2137.63" cy="1234.15" r="20.8" fill="#64B5CD" fill-opacity="0.6" stroke="#fff" stroke-opacity="0.8" stroke-width="2"/>
<polygon points="1925.11,77.96 1929.27,110.59 1933.42,142.98 1937.58,172.81 1941.73,201.91 1945.88,228.43 1950.04,254.74 1954.19,280.82 1958.35,306.69 1962.5,331.01 1966.66,354.82 1970.81,378.42 1974.97,401.79 1979.12,424.95 1983.28,447.89 1987.43,470.62 1991.58,493.13 1995.74,515.41 1999.89,537.36 2004.05,558.29 2008.2,579.02 2012.36,599.52 2016.51,619.81 2020.67,639.88 2024.82,659.73 2028.97,679.36 2033.13,698.78 2037.28,717.98 2041.44,736.96 2045.59,755.72 2049.75,774.27 2053.9,792.6 2058.06,810.71 2062.21,828.3 2066.36,845.5 2070.52,862.47 2074.67,879.23 2078.83,895.77 2082.98,912.1 2087.14,928.21 2091.29,944.1 2095.45,959.77 2099.6,975.22 2103.75,990.46 2107.91,1005.48 2112.06,1020.28 2116.22,1034.86 2120.37,1049.18 2124.53,1062.85 2128.68,1076.3 2132.84,1089.53 2136.99,1102.55 2141.14,1115.34 2145.3,1127.92 2149.45,1140.29 2153.61,1152.43 2157.76,1164.36 2161.92,1176.07 2166.07,1187.56 2170.23,1198.84 2174.38,1209.9 2178.54,1220.74 2182.69,1230.98 2186.84,1240.75 2191,1250.31 2195.15,1259.64 2199.31,1268.76 2203.46,1277.66 2207.62,1286.34 2211.77,1294.8 2215.93,1303.05 2220.08,1311.08 2224.23,1318.89 2228.39,1326.48 2232.54,1333.6 2236.7,1340.22 2240.85,1346.62 2245.01,1352.81 2249.16,1358.78 2253.32,1364.53 2257.47,1370.07 2261.62,1375.39 2265.78,1380.49 2269.93,1385.71 2274.09,1390.76 2278.24,1395.59 2282.4,1400.21 2286.55,1404.61 2290.71,1408.79 2294.86,1412.75 2299.01,1416.5 2303.17,1420.03 2307.32,1423.34 2311.48,1426.44 2315.63,1429.26 2319.79,1431.62 2323.94,1433.77 2328.1,1435.69 2332.25,1437.4 2336.41,1438.89 2340.56,1440.16 2344.71,1441.22 2348.87,1442.06 2353.02,1442.69 2357.18,1443.11 2361.33,1443.32 2365.49,1443.32 2369.64,1443.04 2373.8,1441.66 2377.95,1440.07 2382.1,1438.25 2386.26,1436.22 2390.41,1433.68 2394.57,1430.77 2398.72,1427.64 2402.88,1424.29 2407.03,1420.84 2411.19,1417.46 2415.34,1413.85 2419.49,1410.02 2419.49,1684.17 2415.34,1682.67 2411.19,1680.95 2407.03,1679.01 2402.88,1676.85 2398.72,1674.48 2394.57,1671.89 2390.41,1669.08 2386.26,1666.05 2382.1,1662.81 2377.95,1659.35 2373.8,1655.67 2369.64,1651.77 2365.49,1647.66 2361.33,1643.33 2357.18,1639.04 2353.02,1634.54 2348.87,1629.82 2344.71,1624.88 2340.56,1619.73 2336.41,1614.36 2332.25,1608.77 2328.1,1602.97 2323.94,1596.95 2319.79,1590.25 2315.63,1583.15 2311.48,1575.84 2307.32,1568.31 2303.17,1560.56 2299.01,1552.6 2294.86,1544.42 2290.71,1536.02 2286.55,1527.22 2282.4,1517.93 2278.24,1508.43 2274.09,1498.71 2269.93,1488.77 2265.78,1477.94 2261.62,1466.88 2257.47,1455.6 2253.32,1444.11 2249.16,1433.77 2245.01,1423.99 2240.85,1413.98 2236.7,1403.76 2232.54,1393.32 2228.39,1383.48 2224.23,1374.59 2220.08,1365.48 2215.93,1356.15 2211.77,1346.61 2207.62,1336.85 2203.46,1326.87 2199.31,1316.67 2195.15,1306.26 2191,1295.63 2186.84,1284.78 2182.69,1273.71 2178.54,1262.54 2174.38,1251.31 2170.23,1239.87 2166.07,1228.21 2161.92,1216.33 2157.76,1204.24 2153.61,1191.92 2149.45,1179.39 2145.3,1166.64 2141.14,1153.68 2136.99,1140.5 2132.84,1127.09 2128.68,1113.48 2124.53,1099.64 2120.37,1085.59 2116.22,1071.58 2112.06,1057.38 2107.91,1042.96 2103.75,1028.33 2099.6,1013.47 2095.45,998.4 2091.29,983.12 2087.14,967.61 2082.98,951.89 2078.83,935.95 2074.67,919.8 2070.52,903.42 2066.36,886.83 2062.21,870.02 2058.06,853.17 2053.9,836.41 2049.75,819.43 2045.59,802.23 2041.44,784.82 2037.28,767.19 2033.13,749.34 2028.97,731.27 2024.82,712.98 2020.67,694.48 2016.51,675.76 2012.36,656.82 2008.2,637.67 2004.05,618.3 1999.89,598.71 1995.74,579.56 1991.58,560.3 1987.43,540.83 1983.28,521.14 1979.12,501.24 1974.97,481.11 1970.81,460.77 1966.66,440.21 1962.5,419.43 1958.35,398.49 1954.19,377.57 1950.04,356.43 1945.88,338.53 1941.73,321.52 1937.58,304.29 1933.42,286.85 1929.27,260.21 1925.11,233.21" fill="#4C72B0" fill-opacity="0.15"/>
<polyline points="1925.11,166.07 1929.27,190.25 1933.42,214.22 1937.58,237.96 1941.73,261.49 1945.88,284.8 1950.04,307.89 1954.19,330.76 1958.35,353.42 1962.5,375.86 1966.66,398.08 1970.81,420.09 1974.97,441.88 1979.12,463.44 1983.28,484.8 1987.43,505.93 1991.58,526.85 1995.74,547.55 1999.89,568.03 2004.05,588.3 2008.2,608.34 2012.36,628.17 2016.51,647.78 2020.67,667.18 2024.82,686.36 2028.97,705.31 2033.13,724.06 2037.28,742.58 2041.44,760.89 2045.59,778.98 2049.75,796.85 2053.9,814.5 2058.06,831.94 2062.21,849.16 2066.36,866.16 2070.52,882.95 2074.67,899.51 2078.83,915.86 2082.98,932 2087.14,947.91 2091.29,963.61 2095.45,979.09 2099.6,994.35 2103.75,1009.39 2107.91,1024.22 2112.06,1038.83 2116.22,1053.22 2120.37,1067.39 2124.53,1081.35 2128.68,1095.09 2132.84,1108.61 2136.99,1121.92 2141.14,1135 2145.3,1147.87 2149.45,1160.52 2153.61,1172.96 2157.76,1185.18 2161.92,1197.17 2166.07,1208.96 2170.23,1220.52 2174.38,1231.87 2178.54,1243 2182.69,1253.91 2186.84,1264.6 2191,1275.08 2195.15,1285.34 2199.31,1295.38 2203.46,1305.2 2207.62,1314.81 2211.77,1324.2 2215.93,1333.37 2220.08,1342.32 2224.23,1351.06 2228.39,1359.58 2232.54,1367.88 2236.7,1375.97 2240.85,1383.83 2245.01,1391.48 2249.16,1398.91 2253.32,1406.13 2257.47,1413.12 2261.62,1419.9 2265.78,1426.46 2269.93,1432.81 2274.09,1438.93 2278.24,1444.84 2282.4,1450.53 2286.55,1456.01 2290.71,1461.26 2294.86,1466.3 2299.01,1471.12 2303.17,1475.73 2307.32,1480.11 2311.48,1484.28 2315.63,1488.23 2319.79,1491.97 2323.94,1495.48 2328.1,1498.78 2332.25,1501.86 2336.41,1504.73 2340.56,1507.37 2344.71,1509.8 2348.87,1512.01 2353.02,1514.01 2357.18,1515.78 2361.33,1517.34 2365.49,1518.68 2369.64,1519.81 2373.8,1520.71 2377.95,1521.4 2382.1,1521.87 2386.26,1522.13 2390.41,1522.16 2394.57,1521.98 2398.72,1521.58 2402.88,1520.97 2407.03,1520.13 2411.19,1519.08 2415.34,1517.81 2419.49,1516.33" fill="none" stroke="#4C72B0" stroke-width="12" stroke-linecap="round" stroke-linejoin="round"/>
</g>
<text x="221" y="706" font-size="66.7" text-anchor="end">10</text>
<text x="221" y="428.4" font-size="66.7" text-anchor="end">20</text>
<text x="221" y="150.8" font-size="66.7" text-anchor="end">30</text>
<text x="221" y="1597.1" font-size="66.7" text-anchor="end">0.00</text>
<text x="221" y="1426.28" font-size="66.7" text-anchor="end">0.25</text>
<text x="221" y="1255.45" font-size="66.7" text-anchor="end">0.50</text>
<text x="221" y="1084.63" font-size="66.7" text-anchor="end">0.75</text>
<text x="221" y="913.8" font-size="66.7" text-anchor="end">1.00</text>
<text x="335.5" y="1707.2" font-size="66.7" text-anchor="middle">1</text>
<text x="472.23" y="1707.2" font-size="66.7" text-anchor="middle">2</text>
<text x="608.96" y="1707.2" font-size="66.7" text-anchor="middle">3</text>
<text x="745.69" y="1707.2" font-size="66.7" text-anchor="middle">4</text>
<text x="882.42" y="1707.2" font-size="66.7" text-anchor="middle">5</text>
<text x="1019.15" y="1707.2" font-size="66.7" text-anchor="middle">6</text>
<text x="1155.88" y="1707.2" font-size="66.7" text-anchor="middle">7</text>
<text x="1292.61" y="1707.2" font-size="66.7" text-anchor="middle">8</text>
<text x="1429.34" y="1707.2" font-size="66.7" text-anchor="middle">9</text>
<text x="1566.07" y="1707.2" font-size="66.7" text-anchor="middle">10</text>
<text x="1846" y="1561.1" font-size="66.7" text-anchor="end">0.0</text>
<text x="1846" y="1281.36" font-size="66.7" text-anchor="end">0.2</text>
<text x="1846" y="1001.62" font-size="66.7" text-anchor="end">0.4</text>
<text x="1846" y="721.88" font-size="66.7" text-anchor="end">0.6</text>
<text x="1846" y="442.14" font-size="66.7" text-anchor="end">0.8</text>
<text x="1846" y="162.4" font-size="66.7" text-anchor="end">1.0</text>
<text x="1999.3" y="1707.5" font-size="66.7" text-anchor="middle">10</text>
<text x="2200.35" y="1707.5" font-size="66.7" text-anchor="middle">20</text>
<text x="2401.4" y="1707.5" font-size="66.7" text-anchor="middle">30</text>
<text x="951.5" y="1792" font-size="66.5" text-anchor="middle" font-weight="bold">training session</text>
<text x="2171.2" y="1791.3" font-size="66.5" text-anchor="middle" font-weight="bold">mean breathing rate</text>
<text transform="translate(110.5,444) rotate(-90)" font-size="66.5" text-anchor="middle" font-weight="bold">mean breathing rate</text>
<text transform="translate(53.3,1231.9) rotate(-90)" font-size="66.5" text-anchor="middle" font-weight="bold">mean biofeedback score</text>
<text transform="translate(1718.6,838.5) rotate(-90)" font-size="66.5" text-anchor="middle" font-weight="bold">mean biofeedback score</text>
<text x="6.1" y="44.2" font-size="52" text-anchor="start" font-weight="bold" fill="#000">A</text>
<text x="1675.8" y="44.9" font-size="52" text-anchor="start" font-weight="bold" fill="#000">B</text>
<rect x="394.15" y="87.65" width="367.8" height="181.2" rx="10" ry="10" fill="#fff" fill-opacity="0.8" stroke="#cccccc" stroke-width="4.3"/>
<text x="408.5" y="132.6" font-size="38.2" text-anchor="start">condition</text>
<path d="M457.03,156.94 L466.46,166.37 L457.03,175.8 L466.46,185.23 L457.03,194.66 L447.6,185.23 L438.17,194.66 L428.74,185.23 L438.17,175.8 L428.74,166.37 L438.17,156.94 L447.6,166.37 Z" fill="#4C72B0" stroke="#fff" stroke-width="2.0" stroke-linejoin="miter"/>
<circle cx="447.9" cy="232.3" r="20" fill="#4C72B0" stroke="#fff" stroke-width="2.0"/>
<text transform="translate(486.5,189.2) scale(0.955,1)" font-size="40" text-anchor="start">biofeedback</text>
<text transform="translate(486.5,246.4) scale(0.955,1)" font-size="40" text-anchor="start">no biofeedback</text>
<rect x="777.65" y="87.65" width="830.5" height="181" rx="10" ry="10" fill="#fff" fill-opacity="0.8" stroke="#cccccc" stroke-width="4.3"/>
<text x="792.4" y="133" font-size="38.2" text-anchor="start">participant</text>
<line x1="793.3" y1="175.7" x2="869.3" y2="175.7" stroke="#4C72B0" stroke-width="7.8" stroke-linecap="round"/>
<text transform="translate(899.6,189.3) scale(0.955,1)" font-size="40" text-anchor="start">1</text>
<line x1="793.3" y1="231.4" x2="869.3" y2="231.4" stroke="#DD8452" stroke-width="7.8" stroke-linecap="round"/>
<text transform="translate(899.6,245) scale(0.955,1)" font-size="40" text-anchor="start">2</text>
<line x1="961.1" y1="175.7" x2="1037.1" y2="175.7" stroke="#55A868" stroke-width="7.8" stroke-linecap="round"/>
<text transform="translate(1067.4,189.3) scale(0.955,1)" font-size="40" text-anchor="start">3</text>
<line x1="961.1" y1="231.4" x2="1037.1" y2="231.4" stroke="#C44E52" stroke-width="7.8" stroke-linecap="round"/>
<text transform="translate(1067.4,245) scale(0.955,1)" font-size="40" text-anchor="start">4</text>
<line x1="1128.9" y1="175.7" x2="1204.9" y2="175.7" stroke="#8172B3" stroke-width="7.8" stroke-linecap="round"/>
<text transform="translate(1235.2,189.3) scale(0.955,1)" font-size="40" text-anchor="start">5</text>
<line x1="1128.9" y1="231.4" x2="1204.9" y2="231.4" stroke="#937860" stroke-width="7.8" stroke-linecap="round"/>
<text transform="translate(1235.2,245) scale(0.955,1)" font-size="40" text-anchor="start">6</text>
<line x1="1296.7" y1="175.7" x2="1372.7" y2="175.7" stroke="#DA8BC3" stroke-width="7.8" stroke-linecap="round"/>
<text transform="translate(1403,189.3) scale(0.955,1)" font-size="40" text-anchor="start">7</text>
<line x1="1296.7" y1="231.4" x2="1372.7" y2="231.4" stroke="#8C8C8C" stroke-width="7.8" stroke-linecap="round"/>
<text transform="translate(1403,245) scale(0.955,1)" font-size="40" text-anchor="start">8</text>
<line x1="1464.5" y1="175.7" x2="1540.5" y2="175.7" stroke="#CCB974" stroke-width="7.8" stroke-linecap="round"/>
<text transform="translate(1570.8,189.3) scale(0.955,1)" font-size="40" text-anchor="start">9</text>
<rect x="2240.55" y="87.45" width="181.7" height="677.6" rx="10" ry="10" fill="#fff" fill-opacity="0.8" stroke="#cccccc" stroke-width="4.3"/>
<text x="2331.4" y="132.4" font-size="38.2" text-anchor="middle">training</text>
<text x="2331.4" y="174.3" font-size="38.2" text-anchor="middle">session</text>
<circle cx="2295.4" cy="223" r="19.4" fill="#4C72B0"/>
<text transform="translate(2363.5,231.6) scale(0.955,1)" font-size="40" text-anchor="start">1</text>
<circle cx="2295.4" cy="279.5" r="19.4" fill="#DD8452"/>
<text transform="translate(2363.5,288.1) scale(0.955,1)" font-size="40" text-anchor="start">2</text>
<circle cx="2295.4" cy="336" r="19.4" fill="#55A868"/>
<text transform="translate(2363.5,344.6) scale(0.955,1)" font-size="40" text-anchor="start">3</text>
<circle cx="2295.4" cy="392.5" r="19.4" fill="#C44E52"/>
<text transform="translate(2363.5,401.1) scale(0.955,1)" font-size="40" text-anchor="start">4</text>
<circle cx="2295.4" cy="449" r="19.4" fill="#8172B3"/>
<text transform="translate(2363.5,457.6) scale(0.955,1)" font-size="40" text-anchor="start">5</text>
<circle cx="2295.4" cy="505.5" r="19.4" fill="#937860"/>
<text transform="translate(2363.5,514.1) scale(0.955,1)" font-size="40" text-anchor="start">6</text>
<circle cx="2295.4" cy="562" r="19.4" fill="#DA8BC3"/>
<text transform="translate(2363.5,570.6) scale(0.955,1)" font-size="40" text-anchor="start">7</text>
<circle cx="2295.4" cy="618.5" r="19.4" fill="#8C8C8C"/>
<text transform="translate(2363.5,627.1) scale(0.955,1)" font-size="40" text-anchor="start">8</text>
<circle cx="2295.4" cy="675" r="19.4" fill="#CCB974"/>
<text transform="translate(2363.5,683.6) scale(0.955,1)" font-size="40" text-anchor="start">9</text>
<circle cx="2295.4" cy="731.5" r="19.4" fill="#64B5CD"/>
<text transform="translate(2363.5,740.1) scale(0.955,1)" font-size="40" text-anchor="start">10</text>
</svg></body></html>
